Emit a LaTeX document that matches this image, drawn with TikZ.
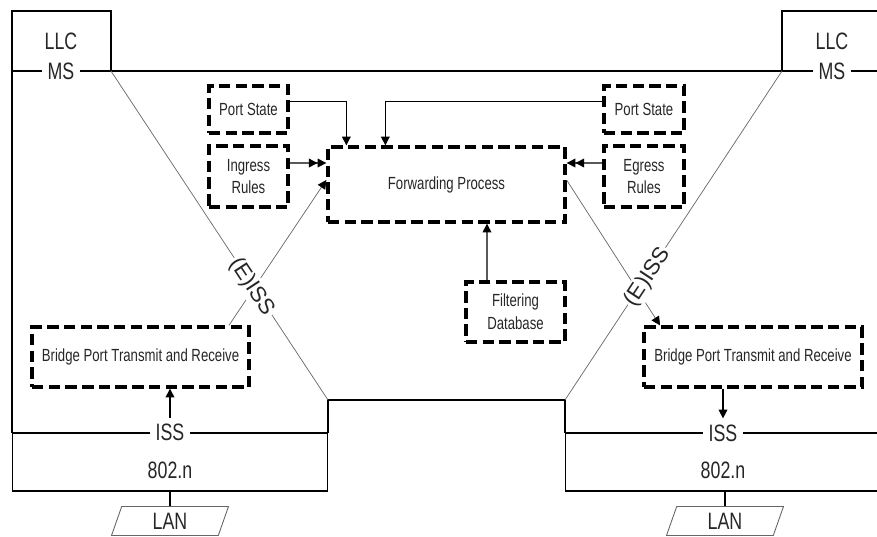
\documentclass[tikz,border=0pt]{standalone}
\usepackage{fontspec}
\setmainfont{Liberation Sans}[FakeStretch=0.75]
\newfontfamily\eissfont{Liberation Sans}
\usetikzlibrary{arrows.meta,shapes.geometric}
\tikzset{
    frame/.style={line width=0.6pt},
    thinline/.style={line width=0.4pt, gray!80!black},
    big/.style={font=\fontsize{13.5}{15}\selectfont, text=black!85},
    dbox/.style={draw, dash pattern=on 6.5pt off 3pt, line width=1.9pt, align=center,
        font=\fontsize{10}{13}\selectfont, text=black!85},
    eiss/.style={fill=white, inner sep=1pt, font=\eissfont\fontsize{12.5}{14}\selectfont, text=black!85},
    lan/.style={draw, gray!80!black, text=black!85, line width=0.5pt, trapezium, trapezium left angle=58,
        trapezium right angle=122, trapezium stretches body, minimum width=2.34cm,
        minimum height=0.58cm, inner sep=0pt, font=\fontsize{13.5}{15}\selectfont},
    arr/.style={-{Triangle[length=5pt, width=5pt, color=black]}, line width=0.6pt},
    dbl/.style={-{Triangle[length=5pt, width=5pt]Triangle[length=5pt, width=5pt]}, line width=0.6pt}
}
\begin{document}
\begin{tikzpicture}[x=0.02cm, y=-0.02cm]
    \useasboundingbox (0,0) rectangle (877,537);
    % Draw outline of the two stations
    \draw[frame] (12,433) -- (12,11) -- (111,11) -- (111,71);
    \draw[frame] (12,71) -- (877,71);
    \draw[frame] (877,11) -- (782,11) -- (782,71);
    \draw[frame] (328,433) -- (328,400) -- (565,400) -- (565,433);
    \draw[thinline] (111,71) -- (328,400);
    \draw[thinline] (565,400) -- (782,71);
    \node[draw, frame, minimum width=6.32cm, minimum height=1.16cm] (BoxL) at (170,462) {};
    \node[draw, frame, minimum width=6.4cm, minimum height=1.16cm] (BoxR) at (725,462) {};

    % Draw labels on the outline
    \node[big] (LLCL) at (61,41) {LLC};
    \node[big, fill=white] (MSL) at (61,71) {MS};
    \node[big] (LLCR) at (832,41) {LLC};
    \node[big, fill=white] (MSR) at (832,71) {MS};
    \node[big, fill=white] (ISSL) at (BoxL.north) {ISS};
    \node[big, fill=white] (ISSR) at (723,433) {ISS};
    \node[big] (PhyL) at (170,470) {802.n};
    \node[big] (PhyR) at (723,470) {802.n};
    \node[lan] (LANL) at (170,521) {LAN};
    \node[lan] (LANR) at (725,521) {LAN};

    % Draw blocks
    \node[dbox, minimum width=1.58cm, minimum height=0.94cm] (PortStateL) at (248.5,109.5) {Port State};
    \node[dbox, minimum width=1.58cm, minimum height=1.22cm] (Ingress) at (248.5,176.5) {Ingress\\Rules};
    \node[dbox, minimum width=4.74cm, minimum height=1.5cm] (Forwarding) at (446.5,184.5) {Forwarding Process};
    \node[dbox, minimum width=1.6cm, minimum height=0.94cm] (PortStateR) at (644,109.5) {Port State};
    \node[dbox, minimum width=1.6cm, minimum height=1.22cm] (Egress) at (644,176.5) {Egress\\Rules};
    \node[dbox, minimum width=1.98cm, minimum height=1.2cm] (FilterDB) at (515.5,312) {Filtering\\Database};
    \node[dbox, minimum width=4.34cm, minimum height=1.2cm] (BridgeL) at (140.5,357) {Bridge Port Transmit and Receive};
    \node[dbox, minimum width=4.36cm, minimum height=1.2cm] (BridgeR) at (753,357) {Bridge Port Transmit and Receive};

    \draw[arr] ([yshift=0.16cm]PortStateL.east) -| ([xshift=0.4cm]Forwarding.north west);
    \draw[arr] ([yshift=0.16cm]PortStateR.west) -| ([xshift=1.18cm]Forwarding.north west);
    \draw[dbl] ([yshift=0.27cm]Ingress.east) -- ([yshift=0.43cm]Forwarding.west);
    \draw[dbl] ([yshift=0.27cm]Egress.west) -- ([yshift=0.43cm]Forwarding.east);
    \draw[arr] ([xshift=-0.57cm]FilterDB.north) -- ([xshift=0.81cm]Forwarding.south);
    \draw[arr, thinline] ([xshift=1.77cm]BridgeL.north) -- ([yshift=0.09cm]Forwarding.west);
    \draw[arr, thinline] ([yshift=0.09cm]Forwarding.east) -- ([xshift=-1.86cm]BridgeR.north);
    \draw[arr] (ISSL.north) -- (ISSL.north |- BridgeL.south);
    \draw[arr] (BridgeR.south -| ISSR.north) -- (ISSR.north);
    \draw[line width=1pt] (BoxL.south) -- (LANL.north);
    \draw[line width=1pt] (BoxR.south) -- (LANR.north);

    \node[eiss, rotate=-56.6] (EISSL) at (252,287) {(E)ISS};
    \node[eiss, rotate=56.6] (EISSR) at (648,277) {(E)ISS};
\end{tikzpicture}
\end{document}
